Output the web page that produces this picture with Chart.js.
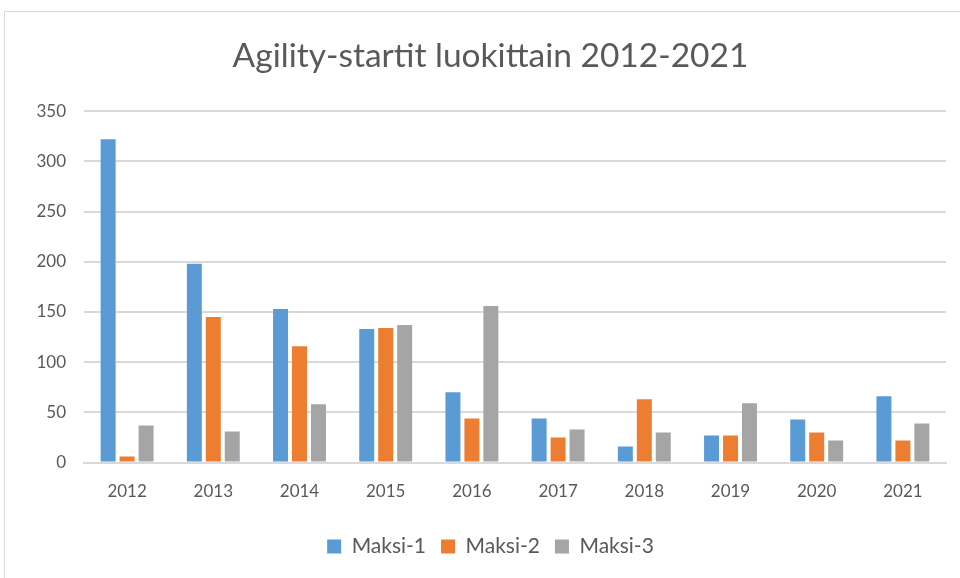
<!DOCTYPE html>
<html>
<head>
<meta charset="utf-8">
<script src="https://cdn.jsdelivr.net/npm/chart.js@4"></script>
<style>
  html, body { margin: 0; padding: 0; background: #fff; overflow: hidden; }
  .box {
    position: absolute; left: 4px; top: 11px; width: 960px; height: 570px;
    border-left: 1px solid #d9d9d9; border-top: 1px solid #d9d9d9;
  }
  canvas { display: block; }
</style>
</head>
<body>
<div class="box"><canvas id="chart" width="956" height="567"></canvas></div>
<script>
// vuodet ja startit luokittain
const years = ["2012", "2013", "2014", "2015", "2016", "2017", "2018", "2019", "2020", "2021"];
const maksi1 = [322, 198, 153, 133, 70, 44, 16, 27, 43, 66];
const maksi2 = [6, 145, 116, 134, 44, 25, 63, 27, 30, 22];
const maksi3 = [37, 31, 58, 137, 156, 33, 30, 59, 22, 39];
const yTicks = [0, 50, 100, 150, 200, 250, 300, 350];

const textColor = "#595959";
const fontFamily = "Lato, 'Open Sans', sans-serif";

function dataset(label, data, color) {
  return {
    label: label,
    data: data,
    backgroundColor: color,
    borderWidth: 0,
    barPercentage: 0.79,
    categoryPercentage: 0.66,
  };
}

new Chart(document.getElementById("chart"), {
  type: "bar",
  data: {
    labels: years,
    datasets: [
      dataset("Maksi-1", maksi1, "#5B9BD5"),
      dataset("Maksi-2", maksi2, "#ED7D31"),
      dataset("Maksi-3", maksi3, "#A5A5A5"),
    ],
  },
  options: {
    responsive: false,
    animation: false,
    layout: { padding: { left: 30, right: 15, top: 0, bottom: 12 } },
    plugins: {
      title: {
        display: true,
        text: "Agility-startit luokittain 2012-2021",
        color: textColor,
        font: { family: fontFamily, size: 33.5, weight: "normal" },
        padding: { top: 24, bottom: 35 },
      },
      legend: {
        position: "bottom",
        labels: {
          color: textColor,
          font: { family: fontFamily, size: 21 },
          boxWidth: 14,
          boxHeight: 14,
          padding: 15,
        },
      },
      tooltip: { enabled: false },
    },
    scales: {
      x: {
        grid: { display: false, drawTicks: false },
        border: { color: "#d9d9d9", width: 2 },
        ticks: { color: textColor, font: { family: fontFamily, size: 17 }, padding: 19 },
      },
      y: {
        min: 0,
        max: 350,
        afterFit: (axis) => { axis.width = 49; },
        afterBuildTicks: (axis) => { axis.ticks = yTicks.map((v) => ({ value: v })); },
        grid: { color: "#d9d9d9", lineWidth: 2, drawTicks: false },
        border: { display: false },
        ticks: { color: textColor, font: { family: fontFamily, size: 17 }, padding: 18 },
      },
    },
  },
});
</script>
</body>
</html>
